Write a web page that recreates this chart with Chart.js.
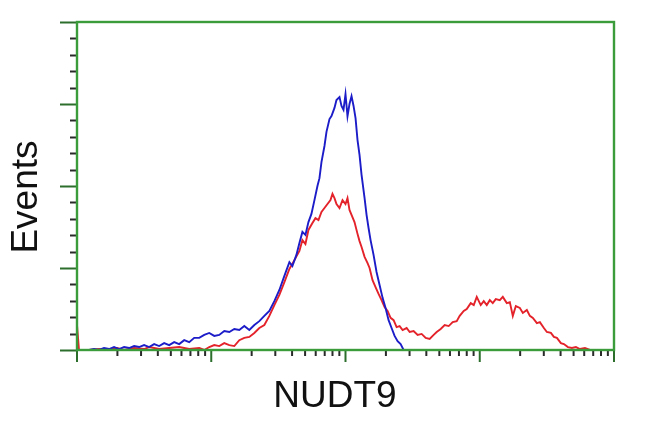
<!DOCTYPE html>
<html>
<head>
<meta charset="utf-8">
<script src="https://cdn.jsdelivr.net/npm/chart.js@4/dist/chart.umd.min.js"></script>
<style>
  html, body { margin: 0; padding: 0; background: #fff; }
  #wrap { width: 650px; height: 432px; position: relative; }
</style>
</head>
<body>
<div id="wrap"><canvas id="myChart" width="650" height="432"></canvas></div>
<script>
// fluorescence intensity (log axis) and event counts
const blueX = [1.035, 1.229, 1.339, 1.459, 1.590, 1.733, 1.888, 2.058, 2.243, 2.444, 2.663, 2.902, 3.162, 3.446, 3.755, 4.092, 4.459, 4.860, 5.296, 5.771, 6.289, 6.853, 7.467, 8.137, 8.867, 9.662, 10.53, 11.47, 12.50, 13.63, 14.85, 16.18, 17.63, 19.21, 20.94, 22.81, 24.86, 27.09, 29.52, 32.17, 35.06, 38.20, 40.22, 43.09, 45.37, 47.77, 50.29, 52.96, 55.76, 58.71, 61.81, 63.98, 66.22, 69.72, 72.16, 75.98, 78.64, 82.78, 85.67, 90.22, 93.38, 96.62, 100, 103.5, 107.1, 110.9, 114.8, 118.8, 122.9, 127.2, 131.7, 138.7, 143.5, 148.5, 153.7, 161.8, 170.3, 179.4, 188.9, 198.8, 209.4, 220.4, 232.1, 244.4, 257.4, 271.0, 290.3];
const blueY = [0, 0, 0.3, 0, 0.6, 0.3, 0.9, 0.3, 0.9, 0.6, 1.2, 0.9, 1.5, 0.9, 1.8, 1.2, 2.1, 1.5, 2.4, 1.8, 3.0, 2.4, 3.7, 3.7, 4.6, 5.2, 4.3, 4.6, 5.8, 5.5, 6.4, 6.1, 7.3, 6.1, 7.6, 8.8, 10.4, 11.9, 14.9, 18.3, 22.6, 26.8, 25.6, 29.0, 32.6, 36.0, 35.1, 39.0, 41.5, 45.7, 50.0, 52.4, 57.3, 62.2, 66.5, 70.4, 71.3, 73.8, 76.2, 77.1, 74.4, 73.2, 78.0, 71.3, 75.0, 77.4, 74.4, 70.7, 64.0, 59.5, 53.4, 46.3, 41.2, 37.2, 33.5, 29.0, 23.8, 19.8, 15.9, 12.8, 9.1, 6.7, 4.3, 2.7, 1.8, 0, 0];

const redX = [1, 1.035, 1.229, 1.459, 1.733, 1.988, 2.243, 2.663, 3.162, 3.446, 4.092, 4.860, 5.771, 6.853, 8.137, 8.867, 9.662, 10.53, 11.47, 12.50, 13.63, 14.85, 16.18, 17.63, 19.21, 20.94, 22.81, 24.86, 27.09, 29.52, 32.17, 35.06, 38.20, 41.63, 45.37, 47.77, 50.29, 52.96, 56.73, 59.73, 62.89, 66.22, 69.72, 73.41, 77.30, 79.98, 82.78, 85.67, 90.22, 95.00, 100, 103.5, 107.1, 110.9, 116.7, 122.9, 127.2, 131.7, 138.7, 146.0, 151.1, 159.0, 167.4, 176.3, 185.6, 195.4, 205.8, 216.7, 228.2, 240.3, 253.0, 266.4, 285.3, 300.5, 321.7, 344.6, 369.2, 395.5, 423.6, 453.7, 477.7, 511.7, 548.1, 587.1, 628.8, 673.5, 709.1, 759.8, 799.9, 856.7, 902.2, 950.0, 1017, 1071, 1128, 1188, 1250, 1317, 1410, 1485, 1590, 1675, 1763, 1857, 1989, 2094, 2243, 2362, 2487, 2664, 2805, 3004, 3162, 3388, 3567, 3755, 4022, 4235, 4537, 4859, 5205, 5576, 6076, 6622, 7214, 7863];
const redY = [7.6, 0, 0, 0.3, 0, 0.6, 0, 0.6, 0.3, 0.9, 0.3, 0.6, 0.9, 0.3, 0.6, 0, 0.9, 1.5, 1.2, 2.1, 1.5, 1.2, 3.0, 3.7, 4.0, 5.2, 6.7, 7.6, 10.4, 13.7, 16.8, 20.7, 24.7, 27.4, 30.2, 33.5, 32.3, 36.6, 38.7, 40.2, 39.6, 42.1, 43.3, 44.5, 45.7, 47.6, 46.3, 44.5, 43.3, 45.7, 44.5, 46.3, 42.7, 41.2, 39.0, 35.4, 33.2, 31.4, 28.4, 26.5, 25.0, 21.3, 19.2, 17.1, 15.2, 13.1, 11.9, 9.8, 9.1, 7.0, 7.3, 6.1, 6.7, 5.5, 5.8, 4.6, 4.9, 3.7, 3.4, 4.6, 5.5, 6.4, 7.6, 7.3, 8.5, 8.8, 10.4, 11.9, 12.5, 14.3, 13.7, 16.2, 13.7, 14.9, 13.7, 15.2, 14.3, 15.5, 15.2, 16.2, 14.3, 14.6, 10.4, 13.4, 12.8, 11.3, 12.2, 10.4, 9.8, 8.2, 8.5, 6.7, 5.5, 5.2, 4.0, 3.7, 2.1, 1.8, 0.9, 0.6, 0.9, 0.3, 0.6, 0, 0, 0];

const yMajor = [0, 25, 50, 75, 100];
const xDecades = [1, 10, 100, 1000, 10000];

const toPoints = (xs, ys) => xs.map((x, i) => ({ x: x, y: ys[i] }));

const green = "#3a9c3a";

// frame, tick marks and axis titles
const framePlugin = {
  id: "frame",
  afterDraw(chart) {
    const { ctx, chartArea: a, scales } = chart;
    const xs = scales.x, ys = scales.y;
    ctx.save();

    // y ticks
    for (let v = 0; v <= 100; v += 5) {
      const py = Math.round(ys.getPixelForValue(v)) + 0.5;
      const major = yMajor.includes(v);
      ctx.strokeStyle = major ? "#2d6e2d" : "#2a2a2a";
      ctx.lineWidth = 2;
      ctx.beginPath();
      ctx.moveTo(a.left - (major ? 17 : 7), py);
      ctx.lineTo(a.left, py);
      ctx.stroke();
    }

    // x ticks (log decades with minor 2..9)
    xDecades.forEach((d, i) => {
      const px = xs.getPixelForValue(d);
      ctx.strokeStyle = "#2d6e2d";
      ctx.lineWidth = 2;
      ctx.beginPath();
      ctx.moveTo(px, a.bottom);
      ctx.lineTo(px, a.bottom + 12);
      ctx.stroke();
      if (i < xDecades.length - 1) {
        for (let k = 2; k <= 9; k++) {
          const mx = xs.getPixelForValue(d * k);
          ctx.strokeStyle = "#2a2a2a";
          ctx.beginPath();
          ctx.moveTo(mx, a.bottom);
          ctx.lineTo(mx, a.bottom + 6);
          ctx.stroke();
        }
      }
    });

    // frame
    ctx.strokeStyle = green;
    ctx.lineWidth = 2.4;
    ctx.strokeRect(a.left, a.top, a.right - a.left, a.bottom - a.top);

    // titles
    ctx.fillStyle = "#111";
    ctx.font = "37px 'Liberation Sans', Arial, sans-serif";
    ctx.textAlign = "center";
    ctx.textBaseline = "middle";
    ctx.fillText("NUDT9", 335, 397);
    ctx.translate(27, 197);
    ctx.rotate(-Math.PI / 2);
    ctx.fillText("Events", 0, 0);
    ctx.restore();
  },
};

const config = {
  type: "line",
  data: {
    datasets: [
      {
        label: "blue",
        data: toPoints(blueX, blueY),
        borderColor: "#1c1cc8",
        borderWidth: 1.9,
        pointRadius: 0,
        tension: 0,
      },
      {
        label: "red",
        data: toPoints(redX, redY),
        borderColor: "#e3222a",
        borderWidth: 1.9,
        pointRadius: 0,
        tension: 0,
      },
    ],
  },
  options: {
    responsive: false,
    animation: false,
    layout: {
      padding: { left: 77, right: 36, top: 22, bottom: 82 },
    },
    scales: {
      x: { type: "logarithmic", min: 1, max: 10000, display: false },
      y: { type: "linear", min: 0, max: 100, display: false },
    },
    plugins: {
      legend: { display: false },
      tooltip: { enabled: false },
    },
  },
  plugins: [framePlugin],
};

const myChart = new Chart(document.getElementById("myChart"), config);
</script>
</body>
</html>
